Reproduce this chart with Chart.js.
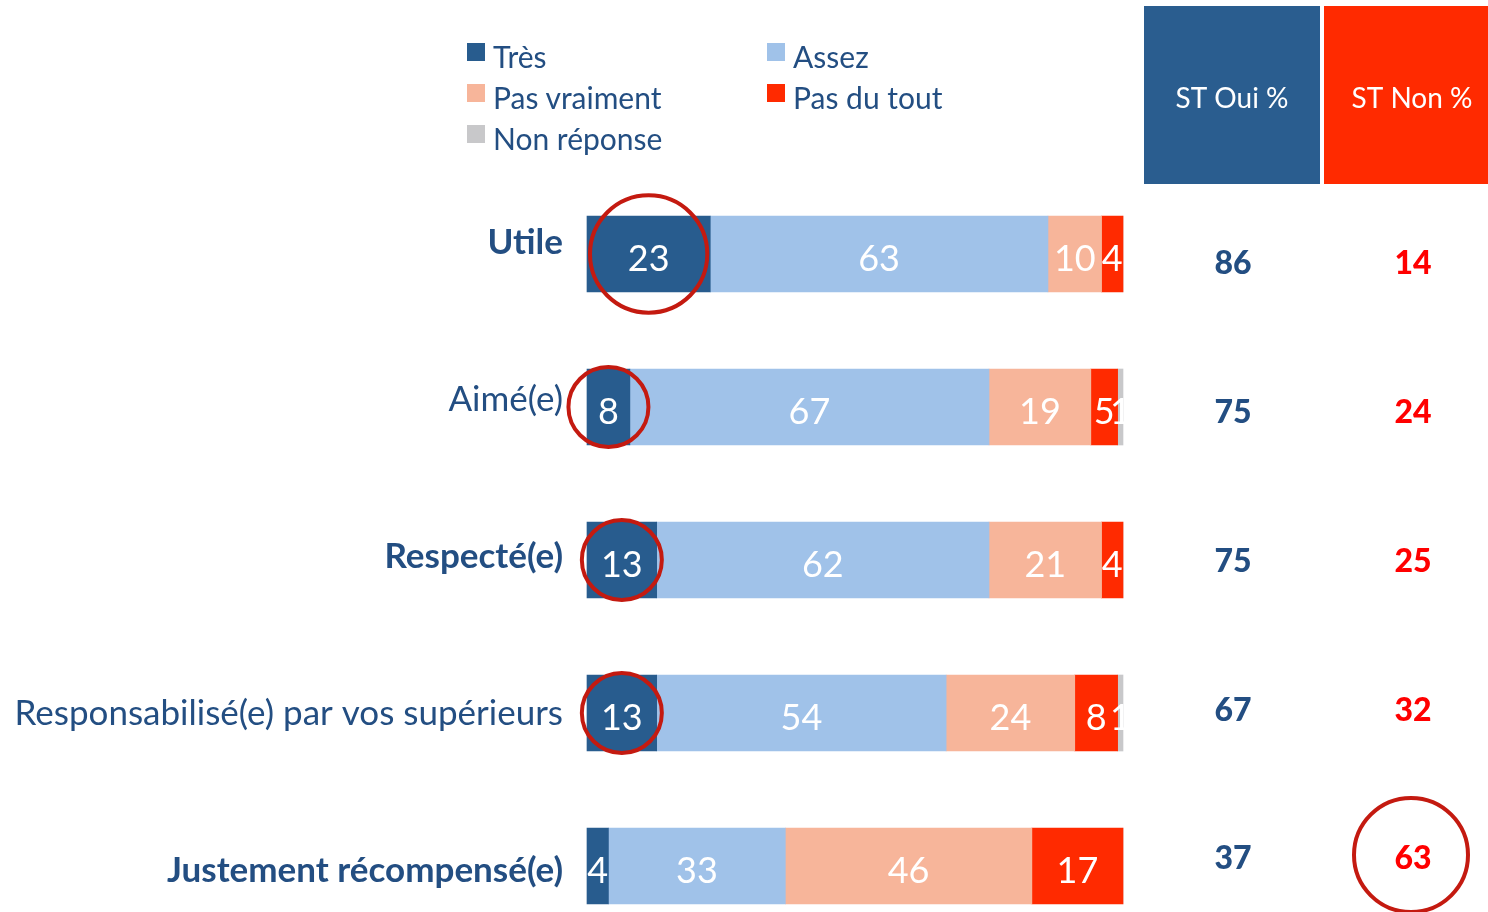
<!DOCTYPE html>
<html>
<head>
<meta charset="utf-8">
<script src="https://cdn.jsdelivr.net/npm/chart.js@4.4.0/dist/chart.umd.min.js"></script>
<style>
  body { margin: 0; background: #fff; }
  #wrap { position: relative; width: 1488px; height: 912px; overflow: hidden; }
  #legend { position: absolute; left: 467px; top: 38px; display: grid;
    grid-template-columns: 300px 300px; row-gap: 6px; font-family: Lato, sans-serif;
    font-size: 30px; color: #234E82; }
  #legend div { display: flex; align-items: center; height: 35px; }
  #legend span.box { width: 18px; height: 18px; margin-right: 8px; margin-top: -8px; }
</style>
</head>
<body>
<div id="wrap">
  <canvas id="chart" width="1488" height="912"></canvas>
  <div id="legend"></div>
</div>
<script>
const categories = ['Utile', 'Aimé(e)', 'Respecté(e)', 'Responsabilisé(e) par vos supérieurs', 'Justement récompensé(e)'];
const boldCategories = [true, false, true, false, true];
const seriesLabels = ['Très', 'Assez', 'Pas vraiment', 'Pas du tout', 'Non réponse'];
const seriesColors = ['#285C8E', '#A0C2E9', '#F7B59A', '#FF2A00', '#C8C8CA'];
const tres = [23, 8, 13, 13, 4];
const assez = [63, 67, 62, 54, 33];
const pasVraiment = [10, 19, 21, 24, 46];
const pasDuTout = [4, 5, 4, 8, 17];
const nonReponse = [0, 1, 0, 1, 0];
const stOui = [86, 75, 75, 67, 37];
const stNon = [14, 24, 25, 32, 63];
// circled cells: [row, series]
const circledBars = [[0, 0], [1, 0], [2, 0], [3, 0]];
const circledStNon = [4];

const blue = '#234E82';
const circleRed = '#C41A10';
const ouiX = 1233, nonX = 1413;

const seriesData = [tres, assez, pasVraiment, pasDuTout, nonReponse];

// legend (Très, Assez / Pas vraiment, Pas du tout / Non réponse)
const legend = document.getElementById('legend');
seriesLabels.forEach((lbl, i) => {
  const d = document.createElement('div');
  d.innerHTML = '<span class="box" style="background:' + seriesColors[i] + '"></span>' + lbl;
  legend.appendChild(d);
});

const extras = {
  id: 'extras',
  beforeDraw(chart) {
    const ctx = chart.ctx;
    ctx.save();
    ctx.fillStyle = '#fff';
    ctx.fillRect(0, 0, chart.width, chart.height);
    ctx.fillStyle = '#2A5D8F';
    ctx.fillRect(1144, 6, 176, 178);
    ctx.fillStyle = '#FF2A00';
    ctx.fillRect(1324, 6, 164, 178);
    ctx.fillStyle = '#fff';
    ctx.font = '28px Lato';
    ctx.textAlign = 'center';
    ctx.textBaseline = 'middle';
    ctx.fillText('ST Oui %', 1232, 99);
    ctx.fillText('ST Non %', 1412, 99);
    ctx.restore();
  },
  afterDatasetsDraw(chart) {
    const ctx = chart.ctx;
    const y = chart.scales.y;
    ctx.save();
    ctx.textBaseline = 'middle';
    // values inside bars
    ctx.fillStyle = '#fff';
    ctx.font = '36px Lato';
    ctx.textAlign = 'center';
    chart.data.datasets.forEach((ds, di) => {
      chart.getDatasetMeta(di).data.forEach((bar, i) => {
        if (!ds.data[i]) return;
        ctx.fillText(ds.data[i], (bar.x + bar.base) / 2, bar.y + 5);
      });
    });
    // category labels
    ctx.textAlign = 'right';
    ctx.fillStyle = blue;
    categories.forEach((c, i) => {
      ctx.font = (boldCategories[i] ? 'bold ' : '') + '35px Lato';
      ctx.fillText(c, 563, y.getPixelForValue(i) - 11 + i * 4);
    });
    // ST columns
    ctx.textAlign = 'center';
    ctx.font = '900 32px Lato';
    categories.forEach((c, i) => {
      const yy = y.getPixelForValue(i) + 10 - i * 4.25;
      ctx.fillStyle = blue;
      ctx.fillText(stOui[i], ouiX, yy);
      ctx.fillStyle = '#FF0000';
      ctx.fillText(stNon[i], nonX, yy);
    });
    // circles
    ctx.strokeStyle = circleRed;
    ctx.lineWidth = 4;
    circledBars.forEach(([row, s]) => {
      const bar = chart.getDatasetMeta(s).data[row];
      const w = Math.abs(bar.x - bar.base);
      const r = Math.max(40, w / 2 - 3);
      ctx.beginPath();
      ctx.arc((bar.x + bar.base) / 2, bar.y, r, 0, Math.PI * 2);
      ctx.stroke();
    });
    circledStNon.forEach(row => {
      const yy = y.getPixelForValue(row) + 9 - row * 4.25 - 3;
      ctx.beginPath();
      ctx.arc(nonX - 2, yy, 57, 0, Math.PI * 2);
      ctx.stroke();
    });
    ctx.restore();
  }
};

new Chart(document.getElementById('chart'), {
  type: 'bar',
  data: {
    labels: categories,
    datasets: seriesLabels.map((lbl, i) => ({
      label: lbl,
      data: seriesData[i],
      backgroundColor: seriesColors[i],
      borderWidth: 0,
      barThickness: 76,
      clip: false
    }))
  },
  options: {
    indexAxis: 'y',
    responsive: false,
    animation: false,
    layout: { padding: { left: 587, right: 365, top: 254, bottom: 46 } },
    plugins: { legend: { display: false }, tooltip: { enabled: false } },
    scales: {
      x: { stacked: true, min: 0, max: 100, display: false },
      y: { stacked: true, offset: false, display: false }
    }
  },
  plugins: [extras]
});
</script>
</body>
</html>
